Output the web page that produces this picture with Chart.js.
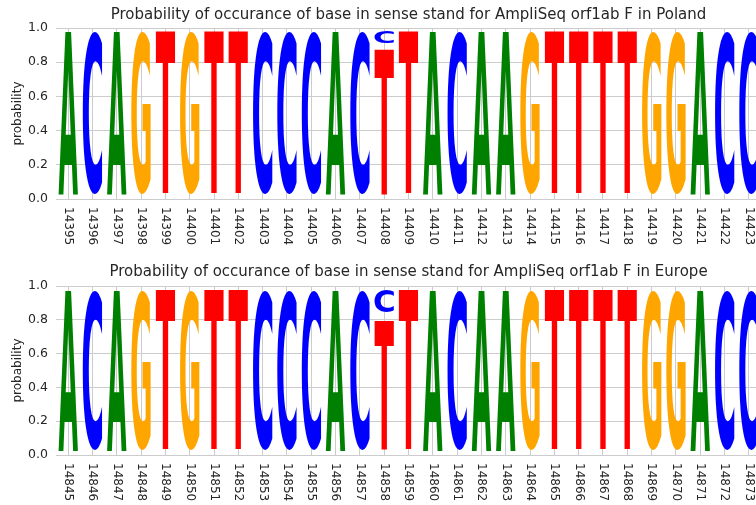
<!DOCTYPE html>
<html>
<head>
<meta charset="utf-8">
<script src="https://cdn.jsdelivr.net/npm/chart.js@4/dist/chart.umd.min.js"></script>
<style>
  html, body { margin: 0; padding: 0; background: #fff; overflow: hidden; }
  #wrap { position: relative; width: 756px; height: 505px; overflow: hidden; }
  canvas { position: absolute; left: 0; }
</style>
</head>
<body>
<div id="wrap">
  <canvas id="polandChart" width="761" height="250" style="top:0px"></canvas>
  <canvas id="europeChart" width="761" height="255" style="top:250px"></canvas>
</div>
<script>
// positions (tick labels)
var polandPositions = ["14395","14396","14397","14398","14399","14400","14401","14402","14403","14404",
                       "14405","14406","14407","14408","14409","14410","14411","14412","14413","14414",
                       "14415","14416","14417","14418","14419","14420","14421","14422","14423"];
var europePositions = ["14845","14846","14847","14848","14849","14850","14851","14852","14853","14854",
                       "14855","14856","14857","14858","14859","14860","14861","14862","14863","14864",
                       "14865","14866","14867","14868","14869","14870","14871","14872","14873"];

// probability of each base, Poland
var polandA = [1,0,1,0,0,0,0,0,0,0, 0,1,0,0,0,1,0,1,1,0, 0,0,0,0,0,0,1,0,0];
var polandC = [0,1,0,0,0,0,0,0,1,1, 1,0,1,0.1,0,0,1,0,0,0, 0,0,0,0,0,0,0,1,1];
var polandG = [0,0,0,1,0,1,0,0,0,0, 0,0,0,0,0,0,0,0,0,1, 0,0,0,0,1,1,0,0,0];
var polandT = [0,0,0,0,1,0,1,1,0,0, 0,0,0,0.9,1,0,0,0,0,0, 1,1,1,1,0,0,0,0,0];

// probability of each base, Europe
var europeA = [1,0,1,0,0,0,0,0,0,0, 0,1,0,0,0,1,0,1,1,0, 0,0,0,0,0,0,1,0,0];
var europeC = [0,1,0,0,0,0,0,0,1,1, 1,0,1,0.18,0,0,1,0,0,0, 0,0,0,0,0,0,0,1,1];
var europeG = [0,0,0,1,0,1,0,0,0,0, 0,0,0,0,0,0,0,0,0,1, 0,0,0,0,1,1,0,0,0];
var europeT = [0,0,0,0,1,0,1,1,0,0, 0,0,0,0.82,1,0,0,0,0,0, 1,1,1,1,0,0,0,0,0];

var yTicks = [0.0, 0.2, 0.4, 0.6, 0.8, 1.0];

var baseColors = { A: '#008000', C: '#0000ff', G: '#ffa500', T: '#ff0000' };
var textColor = '#262626';
var gridColor = '#cccccc';

// draws a stretched letter into every bar
var logoLetters = {
  id: 'logoLetters',
  afterDatasetsDraw: function(chart) {
    var ctx = chart.ctx;
    ctx.save();
    ctx.font = 'bold 200px "DejaVu Sans"';
    ctx.textAlign = 'left';
    ctx.textBaseline = 'alphabetic';
    chart.data.datasets.forEach(function(ds, di) {
      var meta = chart.getDatasetMeta(di);
      var letter = ds.label;
      var m = ctx.measureText(letter);
      var gl = m.actualBoundingBoxLeft, gr = m.actualBoundingBoxRight;
      var ga = m.actualBoundingBoxAscent, gd = m.actualBoundingBoxDescent;
      meta.data.forEach(function(bar, i) {
        if (!(ds.data[i] > 0)) return;
        var p = bar.getProps(['x', 'y', 'base', 'width'], true);
        var h0 = Math.abs(p.base - p.y);
        var pad = Math.min(4, h0 * 0.13);
        var top = Math.min(p.y, p.base) + pad;
        var h = h0 - 2 * pad;
        var left = p.x - p.width / 2;
        ctx.save();
        ctx.translate(left, top);
        ctx.scale(p.width / (gl + gr), h / (ga + gd));
        ctx.fillStyle = baseColors[letter];
        ctx.fillText(letter, gl, ga);
        ctx.restore();
      });
    });
    ctx.restore();
  }
};

// x tick labels, turned to read downwards
var downLabels = {
  id: 'downLabels',
  afterDraw: function(chart) {
    var ctx = chart.ctx;
    var xs = chart.scales.x;
    ctx.save();
    ctx.font = '12px "DejaVu Sans"';
    ctx.fillStyle = textColor;
    ctx.textAlign = 'left';
    ctx.textBaseline = 'middle';
    chart.data.labels.forEach(function(lab, i) {
      ctx.save();
      ctx.translate(xs.getPixelForTick(i), chart.chartArea.bottom + 8);
      ctx.rotate(Math.PI / 2);
      ctx.fillText(lab, 0, 0);
      ctx.restore();
    });
    ctx.restore();
  }
};

function makeLogo(canvasId, positions, a, c, g, t, titleText, titlePad, layoutPad) {
  var ds = [
    { label: 'A', data: a },
    { label: 'G', data: g },
    { label: 'T', data: t },
    { label: 'C', data: c }
  ].map(function(d) {
    d.backgroundColor = 'rgba(0,0,0,0)';
    d.borderWidth = 0;
    d.barPercentage = 0.8;
    d.categoryPercentage = 1.0;
    return d;
  });

  return new Chart(document.getElementById(canvasId), {
    type: 'bar',
    data: { labels: positions, datasets: ds },
    plugins: [logoLetters, downLabels],
    options: {
      responsive: false,
      animation: false,
      layout: { padding: layoutPad },
      plugins: {
        legend: { display: false },
        tooltip: { enabled: false },
        title: {
          display: true,
          text: titleText,
          fullSize: false,
          color: textColor,
          font: { family: 'DejaVu Sans', size: 15, weight: 'normal' },
          padding: titlePad
        }
      },
      scales: {
        x: {
          stacked: true,
          z: 1,
          border: { display: false },
          grid: { color: gridColor, lineWidth: 1, offset: false, drawTicks: false },
          ticks: { display: false }
        },
        y: {
          stacked: true,
          z: 1,
          min: 0,
          max: 1,
          border: { display: false },
          grid: { color: gridColor, lineWidth: 1, drawTicks: false },
          afterBuildTicks: function(scale) {
            scale.ticks = yTicks.map(function(v) { return { value: v }; });
          },
          afterFit: function(scale) { scale.width = 56; },
          ticks: {
            padding: 8,
            color: textColor,
            font: { family: 'DejaVu Sans', size: 12.5 },
            callback: function(v) { return Number(v).toFixed(1); }
          },
          title: {
            display: true,
            text: 'probability',
            color: textColor,
            font: { family: 'DejaVu Sans', size: 12 },
            padding: { top: 11, bottom: 0 }
          }
        }
      }
    }
  });
}

makeLogo('polandChart', polandPositions, polandA, polandC, polandG, polandT,
  'Probability of occurance of base in sense stand for AmpliSeq orf1ab F in Poland',
  { top: 6, bottom: 4 }, { top: 0, bottom: 51, left: 0, right: 0 });

makeLogo('europeChart', europePositions, europeA, europeC, europeG, europeT,
  'Probability of occurance of base in sense stand for AmpliSeq orf1ab F in Europe',
  { top: 13, bottom: 5 }, { top: 0, bottom: 50, left: 0, right: 0 });
</script>
</body>
</html>
